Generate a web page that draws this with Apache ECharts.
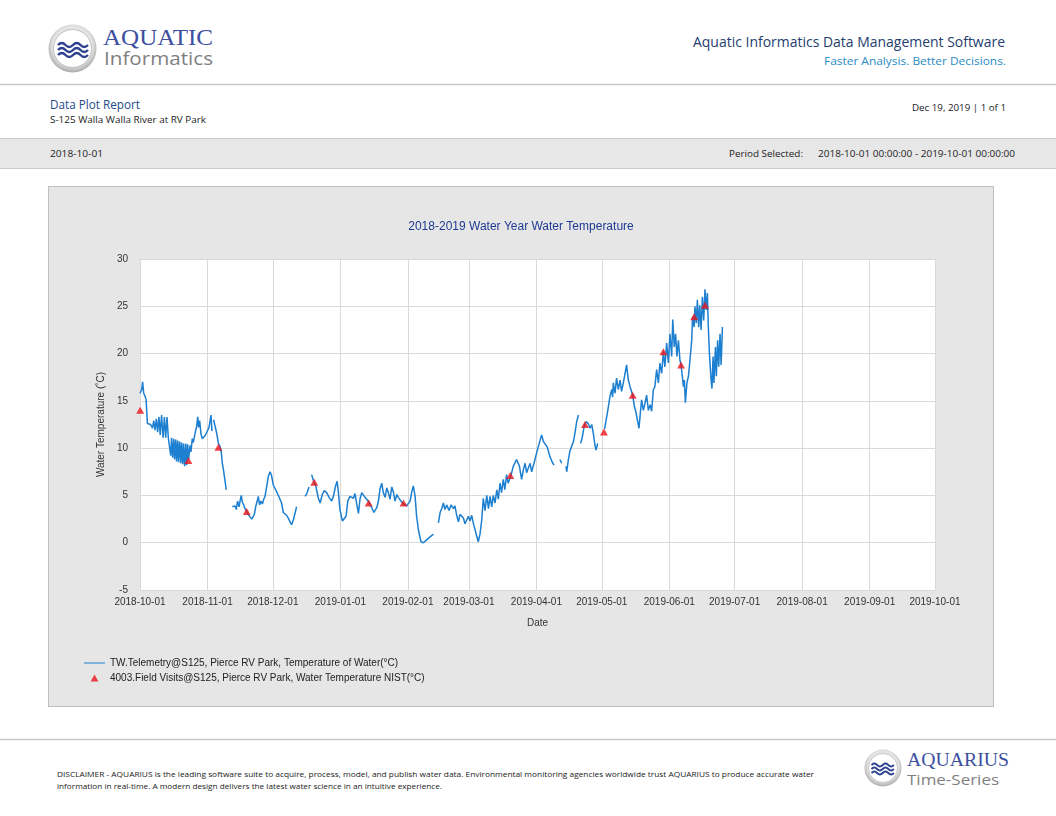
<!DOCTYPE html>
<html>
<head>
<meta charset="utf-8">
<script src="https://cdn.jsdelivr.net/npm/echarts@6/dist/echarts.min.js"></script>
<style>
  html, body { margin: 0; padding: 0; background: #fff; }
  #page { position: relative; width: 1056px; height: 816px; overflow: hidden; font-family: "Open Sans", "Liberation Sans", sans-serif; }
  #page svg { position: absolute; left: 0; top: 0; }
  #panel { position: absolute; left: 48px; top: 186px; width: 946px; height: 521px; box-sizing: border-box;
           border: 1px solid #bfbfbf; background: #e6e6e6; }
  #main { width: 944px; height: 519px; }
</style>
</head>
<body>
<div id="page">
  <svg width="1056" height="816" font-family="'Open Sans', 'Liberation Sans', sans-serif">
    <defs>
      <radialGradient id="ring" cx="50%" cy="45%" r="55%">
        <stop offset="0.75" stop-color="#e4e4e4"/>
        <stop offset="1" stop-color="#a9a9a9"/>
      </radialGradient>
    </defs>
    <!-- top logo -->
    <circle cx="72.5" cy="48.5" r="24" fill="url(#ring)"/>
    <circle cx="72.5" cy="48.5" r="19" fill="#fff" stroke="#b5b5b5" stroke-width="0.8"/>
    <g fill="none" stroke="#2e4291" stroke-width="2.4">
      <path d="M58 45 q3.8 -4 7.5 0 t7.5 0 t7.5 0 t7.5 0"/>
      <path d="M58 50 q3.8 -4 7.5 0 t7.5 0 t7.5 0 t7.5 0"/>
      <path d="M58 55 q3.8 -4 7.5 0 t7.5 0 t7.5 0 t7.5 0"/>
    </g>
    <text x="103" y="36.5" dominant-baseline="central" font-family="'Liberation Serif', serif" font-size="24" fill="#3d50a0" textLength="110" lengthAdjust="spacingAndGlyphs">AQUATIC</text>
    <text x="104" y="58" dominant-baseline="central" font-size="19" fill="#7f7f7f" textLength="109" lengthAdjust="spacingAndGlyphs">Informatics</text>

    <text x="1005" y="41" text-anchor="end" dominant-baseline="central" font-size="14" fill="#24406e" textLength="312" lengthAdjust="spacingAndGlyphs">Aquatic Informatics Data Management Software</text>
    <text x="1006" y="60" text-anchor="end" dominant-baseline="central" font-size="11.5" fill="#2b8cc4" textLength="182" lengthAdjust="spacingAndGlyphs">Faster Analysis. Better Decisions.</text>
    <line x1="0" y1="84.5" x2="1056" y2="84.5" stroke="#c8c8c8" stroke-width="1.5"/>

    <text x="50" y="104.5" dominant-baseline="central" font-size="12" fill="#244a8a" textLength="90" lengthAdjust="spacingAndGlyphs">Data Plot Report</text>
    <text x="50" y="119.5" dominant-baseline="central" font-size="9.5" fill="#222" textLength="156" lengthAdjust="spacingAndGlyphs">S-125 Walla Walla River at RV Park</text>
    <text x="1006" y="107" text-anchor="end" dominant-baseline="central" font-size="9.5" fill="#222" textLength="94" lengthAdjust="spacingAndGlyphs">Dec 19, 2019 | 1 of 1</text>

    <rect x="-1" y="138.5" width="1058" height="30" fill="#e7e7e7" stroke="#c8c8c8" stroke-width="1"/>
    <text x="50" y="153" dominant-baseline="central" font-size="9.5" fill="#222" textLength="53" lengthAdjust="spacingAndGlyphs">2018-10-01</text>
    <text x="729" y="153" dominant-baseline="central" font-size="9.5" fill="#222" textLength="74" lengthAdjust="spacingAndGlyphs">Period Selected:</text>
    <text x="818" y="153" dominant-baseline="central" font-size="9.5" fill="#222" textLength="197" lengthAdjust="spacingAndGlyphs">2018-10-01 00:00:00 - 2019-10-01 00:00:00</text>

    <line x1="0" y1="739.5" x2="1056" y2="739.5" stroke="#c8c8c8" stroke-width="1.5"/>
    <text x="57" y="774" dominant-baseline="central" font-size="7.5" fill="#222" textLength="757" lengthAdjust="spacingAndGlyphs">DISCLAIMER - AQUARIUS is the leading software suite to acquire, process, model, and publish water data. Environmental monitoring agencies worldwide trust AQUARIUS to produce accurate water</text>
    <text x="57" y="786" dominant-baseline="central" font-size="7.5" fill="#222" textLength="385" lengthAdjust="spacingAndGlyphs">information in real-time. A modern design delivers the latest water science in an intuitive experience.</text>

    <!-- bottom logo -->
    <circle cx="883" cy="768" r="18.5" fill="url(#ring)"/>
    <circle cx="883" cy="768" r="14.5" fill="#fff" stroke="#b5b5b5" stroke-width="0.7"/>
    <g fill="none" stroke="#2e4291" stroke-width="1.9">
      <path d="M871.5 765 q2.8 -3 5.6 0 t5.6 0 t5.6 0 t5.6 0"/>
      <path d="M871.5 769 q2.8 -3 5.6 0 t5.6 0 t5.6 0 t5.6 0"/>
      <path d="M871.5 773 q2.8 -3 5.6 0 t5.6 0 t5.6 0 t5.6 0"/>
    </g>
    <text x="907" y="759.5" dominant-baseline="central" font-family="'Liberation Serif', serif" font-size="18" fill="#3d50a0" textLength="102" lengthAdjust="spacingAndGlyphs">AQUARIUS</text>
    <text x="907" y="779" dominant-baseline="central" font-size="15" fill="#7f7f7f" textLength="92" lengthAdjust="spacingAndGlyphs">Time-Series</text>
  </svg>
  <div id="panel"><div id="main"></div></div>
</div>
<script>
// month ticks (also the x labels)
var monthTicks = ['2018-10-01', '2018-11-01', '2018-12-01', '2019-01-01', '2019-02-01', '2019-03-01', '2019-04-01',
  '2019-05-01', '2019-06-01', '2019-07-01', '2019-08-01', '2019-09-01', '2019-10-01'];

// telemetry: [days since 2018-10-01, temp °C], one array per unbroken stretch
var telOct = [[0,15.8],[0.8,16.2],[1.2,17.0],[1.7,15.8],[2.3,15.5],[2.8,15.1],[3.1,15.3],[3.4,12.6],[4.1,12.8],[4.9,12.5],
  [5.7,12.1],[6.3,12.9],[6.9,11.9],[7.5,13.1],[8.1,11.7],[8.7,13.3],[9.3,11.4],[9.9,13.5],[10.6,11.1],[11.2,13.3],
  [11.8,11.1],[12.4,13.3],[13.0,11.1],[13.6,11.2],[14.1,9.2],[14.5,11.1],[15.0,9.0],[15.5,11.0],[15.9,8.8],[16.4,10.9],
  [16.8,8.6],[17.3,10.8],[17.7,8.5],[18.2,10.7],[18.7,8.4],[19.1,10.6],[19.6,8.3],[20.0,10.5],[20.5,8.1],[21.0,10.5],
  [21.4,8.2],[21.9,10.4],[22.3,8.8],[23.0,10.3],[23.4,9.6],[24.0,11.0],[24.5,10.6],[25.3,11.6],[26.0,12.3],[26.5,13.3],
  [26.9,12.2],[27.4,12.9],[28.0,11.5],[28.6,11.0],[29.2,10.8],[29.8,11.3],[30.5,11.6],[31.1,11.9],[31.7,12.2],[32.3,12.4],
  [32.6,13.5],[33.05,11.8]];
var telNovA = [[33.8,13.0],[34.4,12.4],[35.2,11.6],[36.0,10.5],[36.7,10.2],[37.3,9.6],[37.8,8.4],[38.4,7.6],[39.0,6.6],[39.6,5.6]];
var telNovB = [[42.4,3.8],[43.0,3.6],[43.6,3.9],[44.2,3.5],[44.8,4.4],[45.5,3.8],[46.1,4.6],[46.5,5.0],[47.0,4.3],[47.6,4.0],
  [48.2,3.6],[49.0,3.4],[49.7,3.0],[50.5,2.8],[51.3,2.5],[51.9,2.6],[52.5,3.0],[53.1,3.8],[53.7,4.3],[54.3,4.9],
  [54.9,4.0],[55.5,4.4],[56.2,4.1],[56.8,4.6],[57.4,4.9],[58.2,6.0],[58.9,7.0],[59.7,7.5],[60.4,7.1],[61.2,6.1],
  [62.0,6.0],[62.7,5.4],[63.5,5.2],[64.3,4.6],[65.0,4.2],[65.8,3.2],[66.6,3.0],[67.3,2.9],[68.1,2.6],[68.9,2.2],
  [69.6,1.9],[70.4,2.4],[71.2,2.5],[71.9,3.8]];
var telDecA = [[75.8,4.9],[76.6,5.2],[77.6,5.9]];
var telDecB = [[78.8,7.2],[79.6,6.6],[80.7,6.0],[81.9,4.7],[82.7,4.2],[83.7,5.1],[84.6,5.5],[85.7,5.3],[86.8,4.8],[88.0,4.4],
  [88.8,4.9],[89.8,6.0],[90.5,6.5],[91.1,5.3],[91.8,3.5],[92.9,2.3],[93.8,2.1],[94.6,2.8],[95.4,4.4],[96.4,4.9],
  [97.2,5.0],[98.0,4.7],[98.7,5.2],[99.5,4.1],[100.3,3.1],[101.0,4.6],[101.8,5.3],[102.5,5.4],[103.3,4.8],[104.1,4.6],
  [105.1,4.3],[106.4,3.7],[107.4,3.2],[108.7,3.7],[109.4,4.3],[110.2,5.7],[111.0,6.3],[111.7,5.3],[112.5,4.8],[113.3,5.8],
  [114.0,5.3],[114.8,4.6],[115.6,5.9],[116.3,5.4],[117.1,4.4],[117.9,5.1],[118.6,4.8],[119.8,4.4],[120.9,4.1],[122.4,3.9],
  [124.0,4.4],[124.7,5.3],[125.5,6.0],[126.3,4.9],[127.0,2.8],[127.8,1.4],[129.0,0.1],[130.1,0.0],[131.6,0.3],[132.4,0.5],
  [133.6,0.7],[134.7,0.9]];
var telFebApr = [[137.0,2.1],[137.8,3.2],[138.5,3.6],[139.3,4.2],[140.0,3.5],[140.8,4.0],[141.9,3.4],[142.8,4.0],[143.9,3.6],
  [144.6,3.9],[145.4,2.9],[146.2,2.2],[146.9,3.0],[147.7,3.2],[148.5,2.6],[149.2,2.0],[150.0,1.8],[150.8,2.8],[151.5,2.3],
  [152.3,2.9],[153.0,2.1],[153.8,1.4],[154.6,1.5],[155.3,0.1],[156.1,0.9],[156.9,2.4],[157.6,4.7],[158.4,3.4],[159.2,5.0],
  [160.0,3.6],[160.7,4.9],[161.5,3.8],[162.2,5.0],[163.0,4.2],[163.8,5.6],[164.5,4.6],[165.3,6.3],[166.0,5.3],[166.8,6.7],
  [167.5,5.6],[168.3,7.2],[169.0,6.3],[170.2,7.0],[171.4,8.1],[172.9,8.8],[174.2,8.1],[175.2,6.7],[176.0,7.7],[176.8,8.4],
  [177.5,7.4],[178.3,7.2],[179.1,8.4],[179.8,7.5],[180.9,8.4],[182.1,9.5],[183.3,10.5],[184.4,11.4],[185.2,10.7],[185.9,10.9],
  [187.0,10.1],[188.2,9.1],[189.5,8.4],[190.1,8.2]];
var telAprA = [[192.8,8.8],[193.6,8.4]];
var telAprB = [[195.6,8.1],[195.9,7.5],[196.7,8.8],[197.4,9.7],[198.2,9.8],[199.0,10.7],[199.7,11.6],[200.5,12.8],[201.3,13.5]];
var telAprC = [[202.3,10.5],[203.1,11.2],[203.9,12.3],[204.8,12.8],[205.8,12.6],[206.6,12.1],[207.4,12.5],[208.1,11.6],
  [208.9,10.3],[209.4,9.8],[210.1,10.5]];
var telMayJun = [[213.3,12.0],[213.5,12.3],[214.7,13.9],[215.8,15.5],[216.6,16.2],[217.0,15.4],[217.3,16.9],[218.1,15.8],
  [218.8,17.4],[219.6,16.2],[220.4,17.2],[221.1,16.0],[221.9,16.9],[222.7,17.9],[223.4,18.8],[224.2,17.2],[225.0,16.5],
  [226.2,15.6],[227.0,14.4],[227.6,13.9],[228.3,13.7],[229.1,12.1],[229.7,13.7],[230.3,15.1],[231.1,14.0],[231.9,14.8],
  [232.6,15.6],[233.4,14.0],[234.2,14.6],[234.9,13.9],[235.7,16.2],[236.4,16.5],[237.2,18.3],[238.0,16.9],[238.7,19.0],
  [239.5,17.9],[240.3,20.2],[241.0,18.6],[241.8,21.1],[242.6,19.0],[243.3,22.1],[244.1,19.7],[244.6,23.6],[245.3,20.7],
  [245.9,22.1],[246.5,19.7],[247.2,21.4],[247.9,19.3],[248.4,18.8],[249.0,17.6],[249.5,16.5],[249.9,17.2],[250.4,14.8],
  [251.1,16.9],[251.8,17.6],[252.5,19.3],[253.3,21.4],[253.7,23.9],[254.4,22.8],[254.8,25.0],[255.4,23.2],[255.9,25.7],
  [256.5,22.8],[257.0,25.1],[257.6,22.5],[258.2,26.0],[258.8,23.5],[259.4,26.8],[260.0,24.6],[260.5,26.4],[260.9,23.0],
  [261.5,19.7],[262.2,17.2],[262.6,16.3],[263.1,19.7],[263.5,16.9],[264.2,20.7],[264.6,17.6],[265.2,21.4],[265.7,18.6],
  [266.3,22.1],[266.8,18.8],[267.4,22.8]];

// field visits
var visitDates = ['2018-10-01 02:00', '2018-10-23 05:00', '2018-11-06 00:00', '2018-11-19 00:00', '2018-12-20 00:00',
  '2019-01-14 00:00', '2019-01-30 00:00', '2019-03-20 00:00', '2019-04-23 07:00', '2019-05-02 00:00',
  '2019-05-15 05:00', '2019-05-29 07:00', '2019-06-06 10:00', '2019-06-12 10:00', '2019-06-17 10:00'];
var visitTemps = [14.0, 8.7, 10.1, 3.3, 6.4, 4.2, 4.2, 7.1, 12.5, 11.7, 15.6, 20.2, 18.8, 23.9, 25.1];

var telName = 'TW.Telemetry@S125, Pierce RV Park, Temperature of Water(°C)';
var visitName = '4003.Field Visits@S125, Pierce RV Park, Water Temperature NIST(°C)';

var DAY = 86400000;
function parseUTC(s) {
  var p = s.split(/[- :]/);
  return Date.UTC(+p[0], +p[1] - 1, +p[2], +(p[3] || 0), +(p[4] || 0));
}
var t0 = parseUTC(monthTicks[0]);
// x is days since 2018-10-01
function dayOf(s) { return (parseUTC(s) - t0) / DAY; }
function pad(n) { return n < 10 ? '0' + n : '' + n; }
function dayLabel(v) {
  var d = new Date(t0 + Math.round(v * 24) * 3600000);
  return d.getUTCFullYear() + '-' + pad(d.getUTCMonth() + 1) + '-' + pad(d.getUTCDate());
}
var tickDays = monthTicks.map(dayOf);

var telData = [];
[telOct, telNovA, telNovB, telDecA, telDecB, telFebApr, telAprA, telAprB, telAprC, telMayJun].forEach(function (seg, i) {
  if (i > 0) telData.push([seg[0][0] - 0.3, null]);
  seg.forEach(function (p) { telData.push([p[0], p[1]]); });
});
var visitData = visitDates.map(function (d, i) { return [dayOf(d), visitTemps[i]]; });

var chart = echarts.init(document.getElementById('main'), null, { renderer: 'canvas' });
var txt = '#333';
var font = 'Liberation Sans';
var lineBlue = '#1c7fd0';
chart.setOption({
  animation: false,
  backgroundColor: '#e6e6e6',
  textStyle: { fontFamily: font },
  title: {
    text: '2018-2019 Water Year Water Temperature',
    left: 'center', top: 29,
    textStyle: { fontSize: 12, fontWeight: 'normal', color: '#1f3a93', fontFamily: font }
  },
  legend: {
    orient: 'vertical', left: 35, top: 470, padding: 0,
    itemWidth: 21, itemHeight: 7, itemGap: 3,
    symbolKeepAspect: true,
    textStyle: { fontSize: 10, color: '#222', fontFamily: font, lineHeight: 12 },
    data: [
      { name: telName, icon: 'path://M0,0H42V2H0Z' },
      { name: visitName, icon: 'path://M0,9L5,0L10,9Z' }
    ]
  },
  grid: {
    left: 91, top: 72, right: 58, bottom: 116,
    show: true, backgroundColor: '#fff', borderWidth: 0, containLabel: false
  },
  xAxis: {
    type: 'value',
    min: tickDays[0], max: tickDays[tickDays.length - 1],
    name: 'Date', nameLocation: 'middle', nameGap: 28,
    nameTextStyle: { fontSize: 10, color: txt },
    axisLine: { show: false },
    axisTick: { show: false, customValues: tickDays },
    axisLabel: {
      customValues: tickDays, hideOverlap: false, margin: 7,
      fontSize: 10, color: txt, formatter: dayLabel
    },
    splitLine: { show: true, lineStyle: { color: '#d9d9d9', width: 1 } }
  },
  yAxis: {
    type: 'value', min: -5, max: 30, interval: 5,
    name: 'Water Temperature (˚C)', nameLocation: 'middle', nameGap: 34,
    nameTextStyle: { fontSize: 10, color: txt },
    axisLine: { show: false },
    axisTick: { show: false },
    axisLabel: { fontSize: 10, color: txt, margin: 12 },
    splitLine: { show: true, lineStyle: { color: '#d9d9d9', width: 1 } }
  },
  series: [
    {
      name: telName, type: 'line', data: telData,
      symbol: 'none', showSymbol: false, connectNulls: false,
      lineStyle: { color: lineBlue, width: 1.5 },
      itemStyle: { color: lineBlue },
      z: 2
    },
    {
      name: visitName, type: 'scatter', data: visitData,
      symbol: 'triangle', symbolSize: [8, 7],
      itemStyle: { color: '#e8141b' },
      z: 3
    }
  ]
});
</script>
</body>
</html>
